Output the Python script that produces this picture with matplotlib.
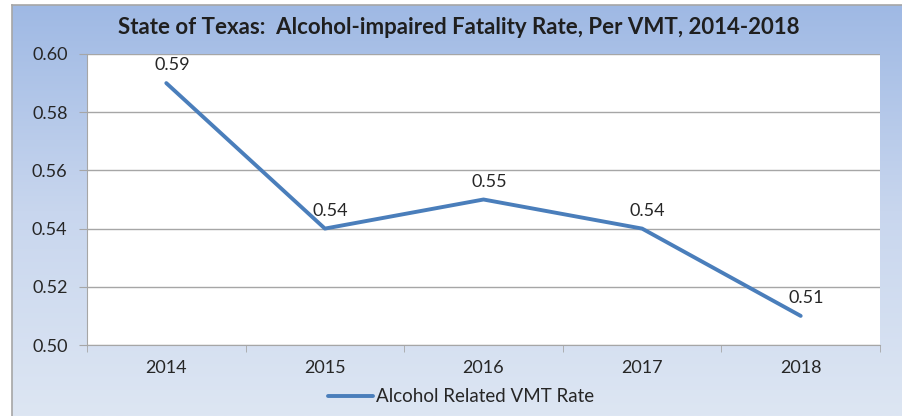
import numpy as np
import matplotlib.pyplot as plt
from matplotlib.colors import LinearSegmentedColormap

years = ["2014", "2015", "2016", "2017", "2018"]
rates = [0.59, 0.54, 0.55, 0.54, 0.51]
y_ticks = [0.50, 0.52, 0.54, 0.56, 0.58, 0.60]
series_name = "Alcohol Related VMT Rate"
title = "State of Texas:  Alcohol-impaired Fatality Rate, Per VMT, 2014-2018"

W, H = 903, 416
plt.rcParams["font.family"] = ["Lato", "DejaVu Sans"]
fig = plt.figure(figsize=(W / 100, H / 100), dpi=100)
fig.patch.set_facecolor("white")

# chart frame with a vertical blue gradient
bg = fig.add_axes([12 / W, 0, 1 - 12 / W, 1 - 5 / H])
cmap = LinearSegmentedColormap.from_list("frame", ["#dde6f3", "#c8d6ee", "#9fb9e4"])
grad = np.linspace(0, 1, 256).reshape(-1, 1)
bg.imshow(grad, aspect="auto", cmap=cmap, origin="lower", extent=[0, 1, 0, 1])
bg.set_xticks([])
bg.set_yticks([])
for side in ["right", "bottom"]:
    bg.spines[side].set_visible(False)
for side in ["left", "top"]:
    bg.spines[side].set_color("#a6a6a6")
    bg.spines[side].set_linewidth(1.2)

ax = fig.add_axes([87 / W, 1 - 345 / H, (880 - 87) / W, (345 - 54) / H])
ax.set_facecolor("white")
x = np.arange(len(years))
line, = ax.plot(x, rates, color="#4a7ebb", lw=2.8, solid_capstyle="round", label=series_name)
for xi, v in zip(x, rates):
    ax.annotate(f"{v:.2f}", (xi, v), xytext=(4, 7), textcoords="offset points",
                ha="center", va="bottom", fontsize=13, color="#262626")

ax.set_xlim(-0.5, len(years) - 0.5)
ax.set_ylim(0.50, 0.60)
ax.set_yticks(y_ticks)
ax.set_yticklabels([f"{t:.2f}" for t in y_ticks])
ax.yaxis.grid(True, color="#a6a6a6", lw=1)
ax.set_axisbelow(True)

# category labels centered, tick marks on the boundaries
ax.set_xticks(x)
ax.set_xticklabels(years)
ax.set_xticks(np.arange(-0.5, len(years)), minor=True)
ax.tick_params(axis="x", which="major", length=0, pad=11, labelsize=13, labelcolor="#262626")
ax.tick_params(axis="x", which="minor", length=5, color="#a6a6a6")
ax.tick_params(axis="y", length=6, color="#a6a6a6", pad=8, labelsize=13, labelcolor="#262626")
for side in ["top", "right"]:
    ax.spines[side].set_visible(False)
for side in ["left", "bottom"]:
    ax.spines[side].set_color("#a6a6a6")

fig.text(459 / W, 1 - 27 / H, title, ha="center", va="center",
         fontsize=16, fontweight="bold", color="#1f1f1f")

fig.legend(handles=[line], loc="center", bbox_to_anchor=(461 / W, 1 - 397 / H),
           frameon=False, fontsize=13.5, handlelength=2.4, handletextpad=0.2,
           labelcolor="#262626")

fig.savefig("out.png", dpi=100)
